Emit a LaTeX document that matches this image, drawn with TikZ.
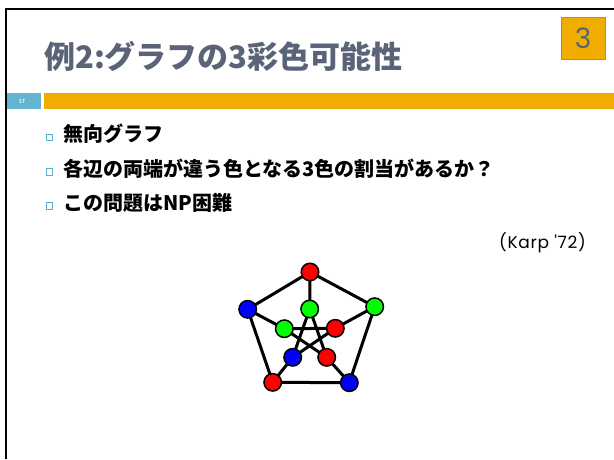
\documentclass[tikz,border=0pt]{standalone}
\usepackage{fontspec}
\newfontfamily\jp{Noto Sans CJK JP}
\newfontfamily\geo{Poppins}
\newfontfamily\geow[LetterSpace=4]{Poppins}
\definecolor{titlegray}{HTML}{5A6378}
\definecolor{barorange}{HTML}{F0AD00}
\definecolor{boxedge}{HTML}{C8900A}
\definecolor{barblue}{HTML}{62B5CF}
\definecolor{bulletblue}{HTML}{5BB0CC}
\definecolor{vred}{HTML}{FF0000}
\definecolor{vgreen}{HTML}{00FF00}
\definecolor{vblue}{HTML}{0000FF}
\tikzset{
  x=1pt, y=-1pt,
  vert/.style={circle, draw=black, line width=1.5pt, minimum size=17.5pt, inner sep=0pt},
  edge/.style={line width=3pt, black},
  bul/.style={draw=bulletblue, line width=0.8pt, fill=white, minimum size=6.5pt, inner sep=0pt},
  item/.style={anchor=west, font=\jp\bfseries\fontsize{20}{22}\selectfont, inner sep=0pt}
}
\begin{document}
\begin{tikzpicture}
\useasboundingbox (0,0) rectangle (614,459);
\fill[white] (0,0) rectangle (614,459);
% frame
\draw[line width=2.4pt] (6,459) -- (6,9) -- (614,9);
% title
\node[anchor=west, inner sep=0pt, text=titlegray, font=\jp\bfseries\fontsize{31}{34}\selectfont] (title) at (44,56) {例2:グラフの3彩色可能性};
% number box
\node[draw=boxedge, fill=barorange, line width=0.8pt, minimum width=44pt, minimum height=42pt, inner sep=0pt, text=titlegray, font=\geo\fontsize{28}{30}\selectfont] (num) at (583,38) {3};
% bars
\fill[barblue] (7,93) rectangle (41,109);
\node[text=white, font=\sffamily\bfseries\fontsize{6}{7}\selectfont, inner sep=0pt] (pg) at (22,101) {17};
\fill[barorange] (44,93) rectangle (614,109);
% bullets
\node[bul] (b1) at (49.5,137.5) {};
\node[item] (t1) at (63,134) {無向グラフ};
\node[bul] (b2) at (49.5,172) {};
\node[item] (t2) at (63,169) {各辺の両端が違う色となる3色の割当があるか？};
\node[bul] (b3) at (49.5,206) {};
\node[item] (t3) at (63,203) {この問題はNP困難};
\node[anchor=east, inner sep=0pt, font=\geow\fontsize{17}{19}\selectfont] (karp) at (586,243) {(Karp '72)};
% graph
\coordinate (O1) at (310,272);
\coordinate (O2) at (374.7,306.7);
\coordinate (O3) at (349.3,382.7);
\coordinate (O4) at (272.7,382.3);
\coordinate (O5) at (247.7,309.3);
\coordinate (I1) at (309.7,309);
\coordinate (I2) at (335.3,328.3);
\coordinate (I3) at (326.7,357.3);
\coordinate (I4) at (292.7,357.3);
\coordinate (I5) at (284.3,328.7);
\draw[edge] (O1) -- (O2) -- (O3) -- (O4) -- (O5) -- cycle;
\draw[edge] (O1) -- (I1) (O2) -- (I2) (O3) -- (I3) (O4) -- (I4) (O5) -- (I5);
\draw[edge] (I1) -- (I3) -- (I5) -- (I2) -- (I4) -- cycle;
\node[vert, fill=vred] (v1) at (O1) {};
\node[vert, fill=vgreen] (v2) at (O2) {};
\node[vert, fill=vblue] (v3) at (O3) {};
\node[vert, fill=vred] (v4) at (O4) {};
\node[vert, fill=vblue] (v5) at (O5) {};
\node[vert, fill=vgreen] (w1) at (I1) {};
\node[vert, fill=vred] (w2) at (I2) {};
\node[vert, fill=vred] (w3) at (I3) {};
\node[vert, fill=vblue] (w4) at (I4) {};
\node[vert, fill=vgreen] (w5) at (I5) {};
\end{tikzpicture}
\end{document}
